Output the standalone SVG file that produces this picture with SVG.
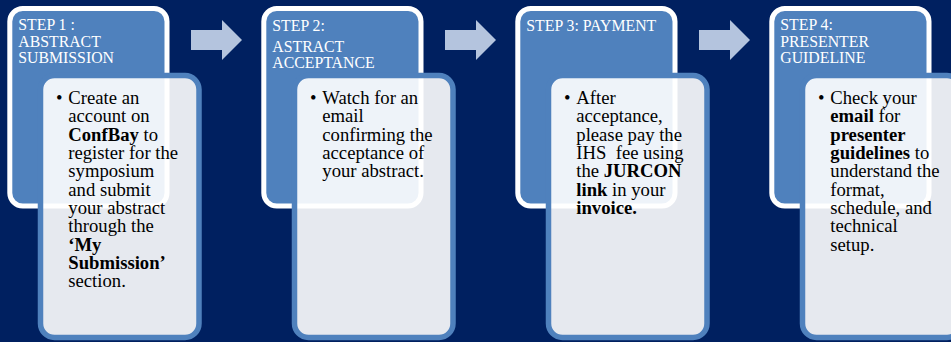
<svg xmlns="http://www.w3.org/2000/svg" width="951" height="342" viewBox="0 0 951 342">
<style>
.bg{fill:#002060}
.hdr{fill:#4f81bd;stroke:#ffffff;stroke-width:5}
.card{fill:#ffffff;fill-opacity:0.9;stroke:#4f81bd;stroke-width:5.5}
.ht{font-family:"Liberation Serif","Times New Roman",serif;font-size:15.8px;fill:#ffffff}
.bt{font-family:"Liberation Serif","Times New Roman",serif;font-size:18.67px;fill:#000000}
.b{font-weight:bold}
.arrow{fill:#b4c4de}
</style>
<defs>
<path id="arr" d="M0,-10 H31 V-20 L51,0 L31,20 V10 H0 Z"/>
</defs>
<rect class="bg" x="0" y="0" width="951" height="342"/>
<g id="connectors">
<use href="#arr" class="arrow" x="191" y="40"/>
<use href="#arr" class="arrow" x="445" y="40"/>
<use href="#arr" class="arrow" x="699" y="40"/>
</g>
<g id="step1">
<rect class="hdr" x="9.8" y="8.5" width="157.2" height="197.5" rx="13"/>
<text class="ht"><tspan x="18.3" y="30">STEP 1 :</tspan><tspan x="18.3" y="46.7">ABSTRACT</tspan><tspan x="18.3" y="63.3">SUBMISSION</tspan></text>
<rect class="card" x="40.5" y="75.5" width="158.5" height="262" rx="14"/>
<text class="bt"><tspan x="56" y="104">•</tspan><tspan x="68.3" y="104">Create an</tspan><tspan x="68.3" y="122.3">account on</tspan><tspan x="68.3" y="140.6"><tspan class="b">ConfBay</tspan> to</tspan><tspan x="68.3" y="159">register for the</tspan><tspan x="68.3" y="177.3">symposium</tspan><tspan x="68.3" y="195.6">and submit</tspan><tspan x="68.3" y="214">your abstract</tspan><tspan x="68.3" y="232.3">through the</tspan><tspan x="68.3" y="250.6" class="b">‘My</tspan><tspan x="68.3" y="269" class="b">Submission’</tspan><tspan x="68.3" y="287.3">section.</tspan></text>
</g>
<g id="step2">
<rect class="hdr" x="263.8" y="8.5" width="157.2" height="197.5" rx="13"/>
<text class="ht"><tspan x="272.3" y="31">STEP 2:</tspan><tspan x="272.3" y="51.7">ASTRACT</tspan><tspan x="272.3" y="67.7">ACCEPTANCE</tspan></text>
<rect class="card" x="294.5" y="75.5" width="158.5" height="262" rx="14"/>
<text class="bt"><tspan x="310" y="104">•</tspan><tspan x="322.3" y="104">Watch for an</tspan><tspan x="322.3" y="122.3">email</tspan><tspan x="322.3" y="140.6">confirming the</tspan><tspan x="322.3" y="159">acceptance of</tspan><tspan x="322.3" y="177.3">your abstract.</tspan></text>
</g>
<g id="step3">
<rect class="hdr" x="517.8" y="8.5" width="157.2" height="197.5" rx="13"/>
<text class="ht"><tspan x="526.3" y="31">STEP 3: PAYMENT</tspan></text>
<rect class="card" x="548.5" y="75.5" width="158.5" height="262" rx="14"/>
<text class="bt"><tspan x="564" y="104">•</tspan><tspan x="576.3" y="104">After</tspan><tspan x="576.3" y="122.3">acceptance,</tspan><tspan x="576.3" y="140.6">please pay the</tspan><tspan x="576.3" y="159" xml:space="preserve">IHS  fee using</tspan><tspan x="576.3" y="177.3">the <tspan class="b">JURCON</tspan></tspan><tspan x="576.3" y="195.6"><tspan class="b">link</tspan> in your</tspan><tspan x="576.3" y="214" class="b">invoice.</tspan></text>
</g>
<g id="step4">
<rect class="hdr" x="771.8" y="8.5" width="157.2" height="197.5" rx="13"/>
<text class="ht"><tspan x="780.3" y="30">STEP 4:</tspan><tspan x="780.3" y="46.7">PRESENTER</tspan><tspan x="780.3" y="62.7">GUIDELINE</tspan></text>
<rect class="card" x="802.5" y="75.5" width="158.5" height="262" rx="14"/>
<text class="bt"><tspan x="818" y="104">•</tspan><tspan x="830.3" y="104">Check your</tspan><tspan x="830.3" y="122.3"><tspan class="b">email</tspan> for</tspan><tspan x="830.3" y="140.6" class="b">presenter</tspan><tspan x="830.3" y="159"><tspan class="b">guidelines</tspan> to</tspan><tspan x="830.3" y="177.3">understand the</tspan><tspan x="830.3" y="195.6">format,</tspan><tspan x="830.3" y="214">schedule, and</tspan><tspan x="830.3" y="232.3">technical</tspan><tspan x="830.3" y="250.6">setup.</tspan></text>
</g>
</svg>
